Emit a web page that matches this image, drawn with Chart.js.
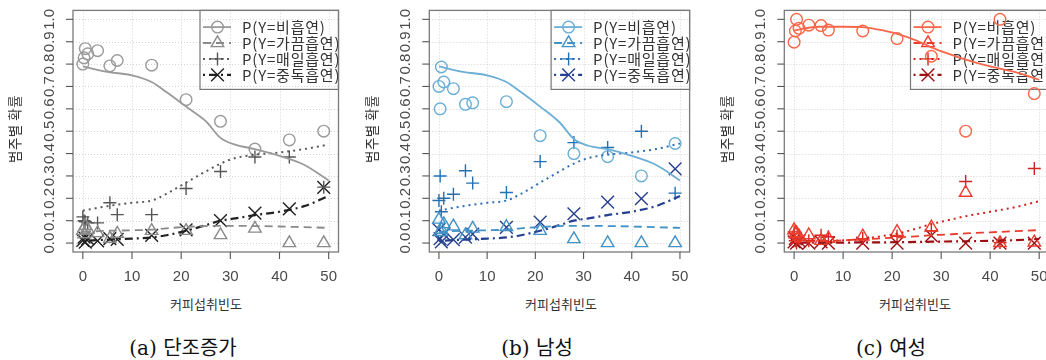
<!DOCTYPE html>
<html>
<head>
<meta charset="utf-8">
<script src="https://cdn.jsdelivr.net/npm/chart.js@4.4.1/dist/chart.umd.min.js"></script>
<style>
  html, body { margin: 0; padding: 0; background: #fff; }
  body { width: 1046px; height: 360px; overflow: hidden; position: relative; font-family: "Noto Sans CJK KR", sans-serif; }
  canvas { position: absolute; top: 0; }
  .ytitle { position: absolute; top: 129px; transform: translate(-50%, -50%) rotate(-90deg); font-size: 13.5px; color: #333; white-space: nowrap; letter-spacing: 0.5px; }
  .xtitle { position: absolute; top: 303px; transform: translate(-50%, -50%); font-size: 13px; color: #333; white-space: nowrap; }
  .cap { position: absolute; top: 346px; transform: translate(-50%, -50%); font: 20px "DejaVu Serif", "Noto Sans CJK KR", serif; color: #111; white-space: nowrap; }
</style>
</head>
<body>
<canvas id="cA" width="350" height="290" style="left:0px"></canvas>
<canvas id="cB" width="350" height="290" style="left:350px"></canvas>
<canvas id="cC" width="360" height="290" style="left:700px"></canvas>

<div class="ytitle" style="left:14px">범주별 확률</div>
<div class="ytitle" style="left:371px">범주별 확률</div>
<div class="ytitle" style="left:726px">범주별 확률</div>
<div class="xtitle" style="left:206px">커피섭취빈도</div>
<div class="xtitle" style="left:561px">커피섭취빈도</div>
<div class="xtitle" style="left:915px">커피섭취빈도</div>
<div class="cap" style="left:183px">(a) 단조증가</div>
<div class="cap" style="left:537px">(b) 남성</div>
<div class="cap" style="left:891px">(c) 여성</div>

<script>
// ---- DATA ----
var xVals = [0, 0.25, 0.5, 1, 3, 5.5, 7, 14, 21, 28, 35, 42, 49];
var fitX = [0, 5, 10, 14, 17, 21, 25, 28, 31, 35, 40, 45, 50];
var xTicks = [0, 10, 20, 30, 40, 50];
var yTicks = [0, 0.1, 0.2, 0.3, 0.4, 0.5, 0.6, 0.7, 0.8, 0.9, 1.0];
var seriesNames = ['P(Y=비흡연)', 'P(Y=가끔흡연)', 'P(Y=매일흡연)', 'P(Y=중독흡연)'];

// (a) 단조증가 - observed
var aNon = [0.80, 0.828, 0.869, 0.846, 0.860, 0.792, 0.816, 0.795, 0.641, 0.544, 0.42, 0.461, 0.50];
var aOcc = [0.055, 0.04, 0.077, 0.06, 0.045, 0.02, 0.042, 0.055, 0.055, 0.036, 0.065, 0.0, 0.0];
var aDaily = [0.117, 0.10, 0.095, 0.09, 0.09, 0.18, 0.127, 0.127, 0.244, 0.32, 0.385, 0.385, 0.25];
var aHeavy = [0.012, 0.026, 0.004, 0.02, 0.01, 0.02, 0.016, 0.034, 0.059, 0.10, 0.134, 0.153, 0.249];
// (a) fitted
var aFitNon = [0.79, 0.765, 0.75, 0.72, 0.675, 0.61, 0.545, 0.47, 0.44, 0.42, 0.39, 0.35, 0.28];
var aFitOcc = [0.05, 0.055, 0.057, 0.06, 0.066, 0.072, 0.076, 0.077, 0.077, 0.076, 0.074, 0.071, 0.068];
var aFitDaily = [0.145, 0.165, 0.18, 0.19, 0.22, 0.27, 0.32, 0.355, 0.38, 0.395, 0.405, 0.42, 0.44];
var aFitHeavy = [0.01, 0.015, 0.02, 0.025, 0.035, 0.055, 0.08, 0.10, 0.11, 0.125, 0.14, 0.165, 0.21];

// (b) 남성 - observed
var bNon = [0.70, 0.60, 0.787, 0.72, 0.69, 0.62, 0.627, 0.632, 0.48, 0.40, 0.386, 0.30, 0.445];
var bOcc = [0.105, 0.05, 0.06, 0.085, 0.075, 0.035, 0.065, 0.072, 0.055, 0.018, 0.0, 0.0, 0.0];
var bDaily = [0.19, 0.30, 0.14, 0.20, 0.218, 0.323, 0.268, 0.226, 0.364, 0.449, 0.427, 0.50, 0.223];
var bHeavy = [0.06, 0.02, 0.005, 0.04, 0.015, 0.026, 0.04, 0.07, 0.094, 0.131, 0.183, 0.199, 0.332];
// (b) fitted
var bFitNon = [0.79, 0.765, 0.75, 0.72, 0.675, 0.61, 0.54, 0.465, 0.435, 0.42, 0.39, 0.35, 0.28];
var bFitOcc = [0.05, 0.055, 0.057, 0.06, 0.066, 0.072, 0.076, 0.077, 0.077, 0.076, 0.074, 0.071, 0.068];
var bFitDaily = [0.145, 0.165, 0.18, 0.19, 0.22, 0.27, 0.32, 0.355, 0.38, 0.395, 0.405, 0.42, 0.445];
var bFitHeavy = [0.01, 0.015, 0.02, 0.025, 0.035, 0.055, 0.08, 0.10, 0.11, 0.125, 0.14, 0.165, 0.21];

// (c) 여성 - observed
var cNon = [0.898, 0.948, 1.0, 0.96, 0.974, 0.972, 0.952, 0.948, 0.914, 0.835, 0.50, 1.0, 0.668];
var cOcc = [0.058, 0.04, 0.045, 0.03, 0.035, 0.01, 0.02, 0.03, 0.05, 0.07, 0.225, 0.0, 0.003];
var cDaily = [0.05, 0.01, 0.0, 0.02, 0.01, 0.035, 0.028, 0.02, 0.03, 0.055, 0.275, 0.002, 0.333];
var cHeavy = [0.005, 0.02, 0.0, 0.01, 0.0, 0.005, 0.0, 0.0, 0.0, 0.033, 0.0, 0.0, 0.0];
// (c) fitted
var cFitNon = [0.95, 0.967, 0.967, 0.965, 0.955, 0.935, 0.905, 0.875, 0.85, 0.82, 0.79, 0.765, 0.73];
var cFitOcc = [0.005, 0.008, 0.012, 0.017, 0.02, 0.025, 0.03, 0.035, 0.038, 0.043, 0.048, 0.053, 0.058];
var cFitDaily = [0.005, 0.008, 0.012, 0.018, 0.028, 0.042, 0.065, 0.085, 0.10, 0.12, 0.14, 0.16, 0.187];
var cFitHeavy = [0.001, 0.002, 0.002, 0.003, 0.003, 0.004, 0.005, 0.006, 0.007, 0.008, 0.01, 0.013, 0.018];

// ---- STYLE ----
var marks = ['circle', 'triangle', 'cross', 'crossRot'];
var markRadius = [5.8, 7.2, 6.5, 9];
var dashes = [[], [8, 5], [2, 4], [2, 4, 8, 4]];
var lineWidths = [1.8, 1.8, 2, 2.2];

var panels = [
  {
    id: 'cA',
    pad: { left: 73, right: 11.5, top: 5, bottom: 38 },
    obs: [aNon, aOcc, aDaily, aHeavy],
    fit: [aFitNon, aFitOcc, aFitDaily, aFitHeavy],
    markColors: ['#9a9a9a', '#8a8a8a', '#555555', '#1e1e1e'],
    lineColors: ['#9a9a9a', '#8a8a8a', '#5a5a5a', '#222222']
  },
  {
    id: 'cB',
    pad: { left: 79.3, right: 8.3, top: 5, bottom: 38 },
    obs: [bNon, bOcc, bDaily, bHeavy],
    fit: [bFitNon, bFitOcc, bFitDaily, bFitHeavy],
    markColors: ['#6baed6', '#4292c6', '#2171b5', '#253f8f'],
    lineColors: ['#6baed6', '#4292c6', '#2f6fb8', '#253f8f']
  },
  {
    id: 'cC',
    pad: { left: 84.3, right: 11, top: 5, bottom: 38 },
    obs: [cNon, cOcc, cDaily, cHeavy],
    fit: [cFitNon, cFitOcc, cFitDaily, cFitHeavy],
    markColors: ['#f8674a', '#ec3b2c', '#d2231f', '#9c0f12'],
    lineColors: ['#f8674a', '#ec3b2c', '#d2231f', '#9c0f12']
  }
];

// ---- R-LIKE FRAME: grid, box, ticks, legend ----
var rFrame = {
  id: 'rFrame',
  beforeDatasetsDraw: function (chart, args, opts) {
    var ctx = chart.ctx, a = chart.chartArea;
    var sx = chart.scales.x, sy = chart.scales.y;
    ctx.save();
    ctx.strokeStyle = '#d4d4d4';
    ctx.lineWidth = 1;
    ctx.setLineDash([1, 2]);
    xTicks.forEach(function (v) {
      var px = Math.round(sx.getPixelForValue(v)) + 0.5;
      ctx.beginPath(); ctx.moveTo(px, a.top); ctx.lineTo(px, a.bottom); ctx.stroke();
    });
    yTicks.forEach(function (v) {
      var py = Math.round(sy.getPixelForValue(v)) + 0.5;
      ctx.beginPath(); ctx.moveTo(a.left, py); ctx.lineTo(a.right, py); ctx.stroke();
    });
    ctx.setLineDash([]);

    // legend box (transparent, under the points)
    var w = 138.5, h = 79;
    var lx = a.right - w, ly = a.top;
    ctx.strokeStyle = '#777';
    ctx.lineWidth = 1.2;
    ctx.strokeRect(lx, ly, w, h);
    ctx.font = '15px "Noto Sans CJK KR"';
    ctx.letterSpacing = '0.8px';
    ctx.textBaseline = 'middle';
    ctx.textAlign = 'left';
    for (var i = 0; i < 4; i++) {
      var y = ly + 16.7 + i * 15.9;
      ctx.strokeStyle = opts.lineColors[i];
      ctx.lineWidth = lineWidths[i];
      ctx.setLineDash(dashes[i]);
      ctx.beginPath(); ctx.moveTo(lx + 3, y); ctx.lineTo(lx + 31, y); ctx.stroke();
      ctx.setLineDash([]);
      ctx.strokeStyle = opts.markColors[i];
      ctx.fillStyle = 'rgba(0,0,0,0)';
      ctx.lineWidth = 1.4;
      Chart.helpers.drawPoint(ctx, { pointStyle: marks[i], radius: markRadius[i], rotation: 0, borderWidth: 1.4 }, lx + 17.5, y);
      ctx.fillStyle = '#333';
      ctx.fillText(seriesNames[i], lx + 42, y + 0.5);
    }
    ctx.restore();
  },
  afterDraw: function (chart) {
    var ctx = chart.ctx, a = chart.chartArea;
    var sx = chart.scales.x, sy = chart.scales.y;
    ctx.save();
    ctx.strokeStyle = '#7a7a7a';
    ctx.lineWidth = 1.3;
    ctx.strokeRect(a.left, a.top, a.right - a.left, a.bottom - a.top);

    ctx.strokeStyle = '#555';
    ctx.lineWidth = 1.1;
    ctx.fillStyle = '#4a4a4a';
    ctx.font = '15px "Liberation Sans"';
    ctx.textAlign = 'center';
    ctx.textBaseline = 'middle';
    xTicks.forEach(function (v) {
      var px = sx.getPixelForValue(v);
      ctx.beginPath(); ctx.moveTo(px, a.bottom); ctx.lineTo(px, a.bottom + 7); ctx.stroke();
      ctx.fillText(String(v), px, a.bottom + 25);
    });
    yTicks.forEach(function (v) {
      var py = sy.getPixelForValue(v);
      ctx.beginPath(); ctx.moveTo(a.left, py); ctx.lineTo(a.left - 7, py); ctx.stroke();
      ctx.save();
      ctx.translate(a.left - 23, py);
      ctx.rotate(-Math.PI / 2);
      ctx.fillText(v.toFixed(1), 0, 0);
      ctx.restore();
    });
    ctx.restore();
  }
};

// ---- BUILD CHARTS ----
function pts(xs, ys) {
  return xs.map(function (x, i) { return { x: x, y: ys[i] }; });
}

panels.forEach(function (p) {
  var datasets = [];
  for (var i = 0; i < 4; i++) {
    datasets.push({
      label: seriesNames[i] + ' fit',
      data: pts(fitX, p.fit[i]),
      showLine: true,
      pointRadius: 0,
      borderColor: p.lineColors[i],
      borderWidth: lineWidths[i],
      borderDash: dashes[i],
      cubicInterpolationMode: 'monotone',
      fill: false,
      clip: false
    });
  }
  for (var j = 0; j < 4; j++) {
    datasets.push({
      label: seriesNames[j],
      data: pts(xVals, p.obs[j]),
      showLine: false,
      pointStyle: marks[j],
      pointRadius: markRadius[j],
      pointBorderWidth: 1.4,
      pointBorderColor: p.markColors[j],
      pointBackgroundColor: 'rgba(0,0,0,0)',
      borderColor: p.markColors[j],
      backgroundColor: 'rgba(0,0,0,0)',
      clip: false
    });
  }

  new Chart(document.getElementById(p.id), {
    type: 'scatter',
    data: { datasets: datasets },
    options: {
      responsive: false,
      animation: false,
      events: [],
      layout: { padding: p.pad },
      plugins: {
        legend: { display: false },
        tooltip: { enabled: false },
        rFrame: { markColors: p.markColors, lineColors: p.lineColors }
      },
      scales: {
        x: { type: 'linear', min: -2, max: 52, display: false },
        y: { type: 'linear', min: -0.04, max: 1.04, display: false }
      }
    },
    plugins: [rFrame]
  });
});
</script>
</body>
</html>
